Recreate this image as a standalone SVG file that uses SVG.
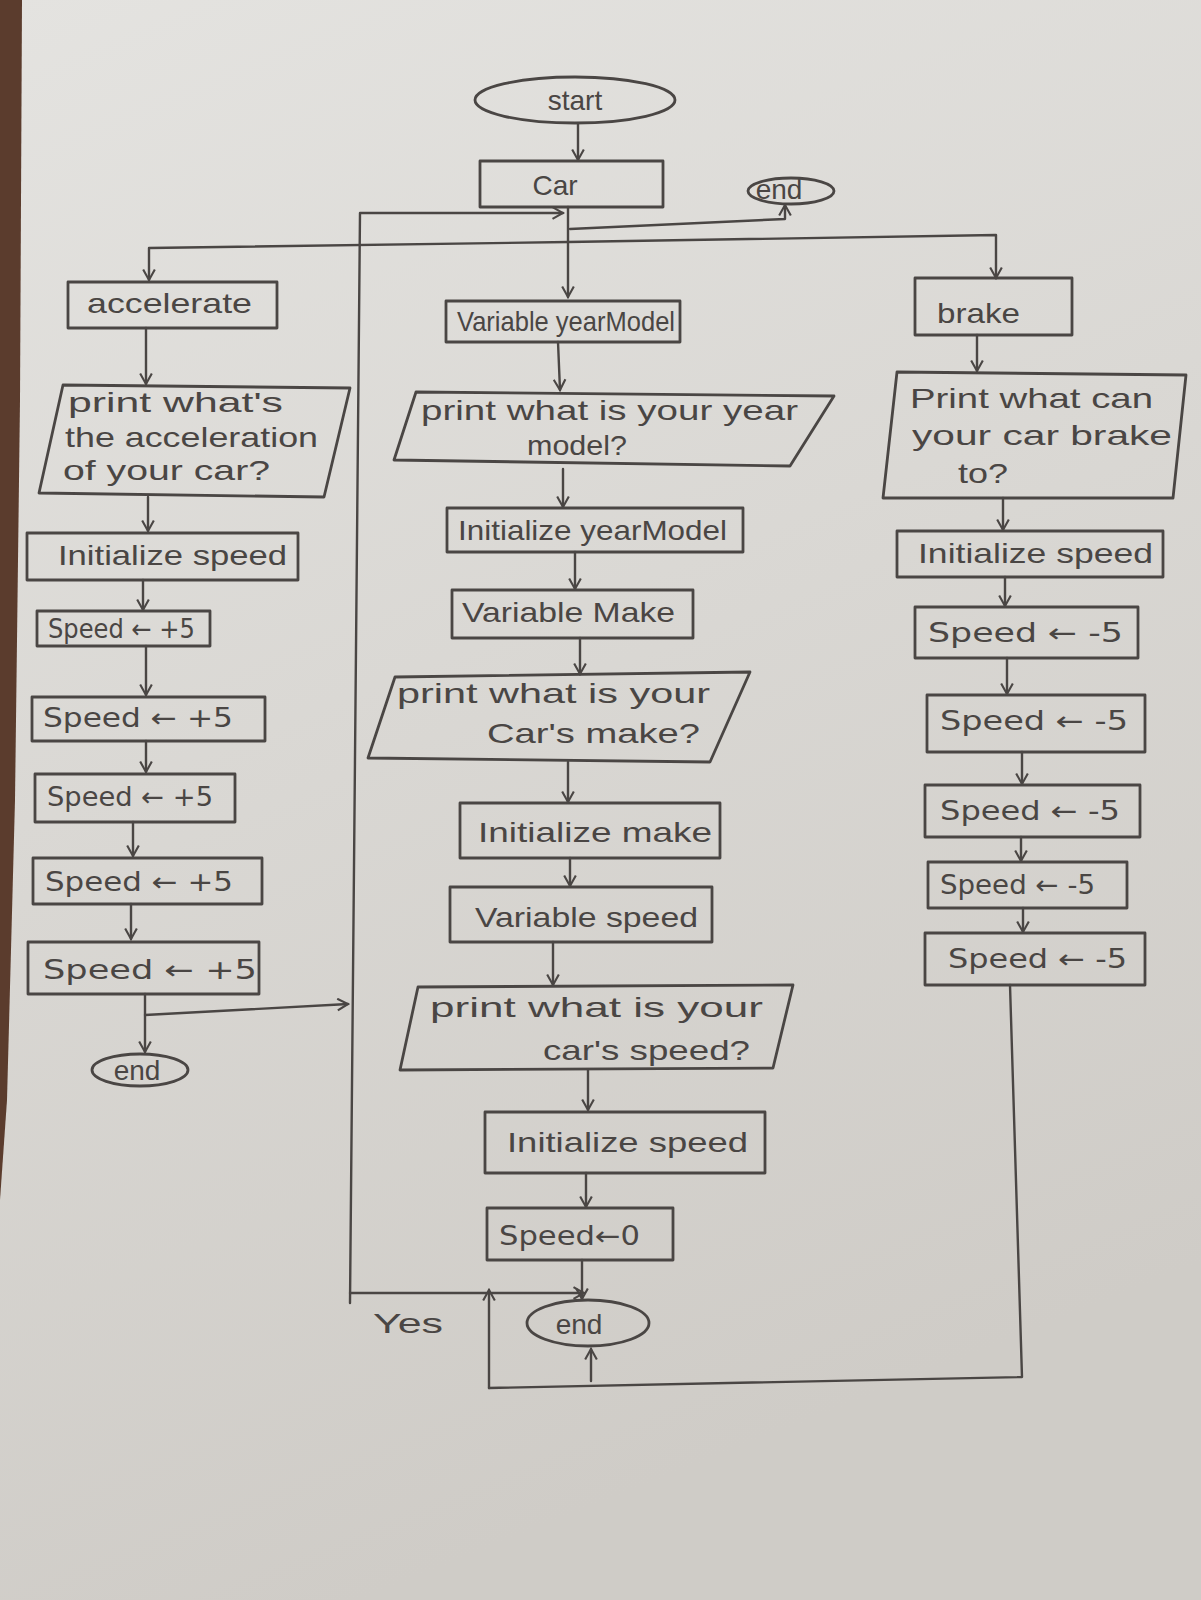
<svg xmlns="http://www.w3.org/2000/svg" width="1201" height="1600" viewBox="0 0 1201 1600">
<defs>
<linearGradient id="paper" x1="0" y1="0" x2="0.3" y2="1">
<stop offset="0" stop-color="#e4e3e0"/>
<stop offset="1" stop-color="#cfccc7"/>
</linearGradient>
<marker id="ah" viewBox="0 0 12 12" refX="10" refY="6" markerWidth="14" markerHeight="14" markerUnits="userSpaceOnUse" orient="auto">
<path d="M1,1 L10,6 L1,11" fill="none" stroke="#4a4644" stroke-width="1.8"/>
</marker>
<style>
.ln{fill:none;stroke:#4a4644;stroke-width:2.4;stroke-linejoin:round;stroke-linecap:round}
.bx{fill:none;stroke:#4a4644;stroke-width:2.8;stroke-linejoin:round}
.t{font-family:"Liberation Sans","DejaVu Sans",Arial,sans-serif;fill:#4a4644;font-size:28px}
.sp{font-family:"DejaVu Sans","Liberation Sans",sans-serif;fill:#4a4644;font-size:26px}
</style>
</defs>
<rect x="0" y="0" width="1201" height="1600" fill="url(#paper)"/>
<polygon points="0,0 22,0 20,400 15,800 7,1100 0,1200" fill="#5b3c2d"/>

<g id="connectors">
<path class="ln" marker-end="url(#ah)" d="M578,124 L578,160"/>
<path class="ln" marker-end="url(#ah)" d="M568,207 L568,297"/>
<path class="ln" marker-end="url(#ah)" d="M570,229 L785,219 L785,205"/>
<path class="ln" marker-end="url(#ah)" d="M568,242 L149,248 L149,280"/>
<path class="ln" marker-end="url(#ah)" d="M568,242 L996,235 L996,278"/>
<path class="ln" marker-end="url(#ah)" d="M350,1303 L360,213 L563,213"/>
<path class="ln" marker-end="url(#ah)" d="M350,1293 L584,1293"/>
<path class="ln" marker-end="url(#ah)" d="M146,328 L146,384"/>
<path class="ln" marker-end="url(#ah)" d="M148,497 L148,531"/>
<path class="ln" marker-end="url(#ah)" d="M143,580 L143,610"/>
<path class="ln" marker-end="url(#ah)" d="M146,646 L146,695"/>
<path class="ln" marker-end="url(#ah)" d="M146,741 L146,772"/>
<path class="ln" marker-end="url(#ah)" d="M133,822 L133,856"/>
<path class="ln" marker-end="url(#ah)" d="M131,904 L131,939"/>
<path class="ln" marker-end="url(#ah)" d="M145,994 L145,1052"/>
<path class="ln" marker-end="url(#ah)" d="M145,1015 L348,1004"/>
<path class="ln" marker-end="url(#ah)" d="M558,342 L560,390"/>
<path class="ln" marker-end="url(#ah)" d="M563,469 L563,507"/>
<path class="ln" marker-end="url(#ah)" d="M575,552 L575,589"/>
<path class="ln" marker-end="url(#ah)" d="M580,638 L580,674"/>
<path class="ln" marker-end="url(#ah)" d="M568,762 L568,802"/>
<path class="ln" marker-end="url(#ah)" d="M570,858 L570,886"/>
<path class="ln" marker-end="url(#ah)" d="M553,942 L553,985"/>
<path class="ln" marker-end="url(#ah)" d="M588,1070 L588,1110"/>
<path class="ln" marker-end="url(#ah)" d="M586,1173 L586,1207"/>
<path class="ln" marker-end="url(#ah)" d="M582,1260 L582,1299"/>
<path class="ln" marker-end="url(#ah)" d="M489,1388 L489,1290"/>
<path class="ln" d="M489,1388 L1022,1377 L1010,985"/>
<path class="ln" marker-end="url(#ah)" d="M591,1381 L591,1349"/>
<path class="ln" marker-end="url(#ah)" d="M977,335 L977,371"/>
<path class="ln" marker-end="url(#ah)" d="M1003,498 L1003,530"/>
<path class="ln" marker-end="url(#ah)" d="M1005,577 L1005,606"/>
<path class="ln" marker-end="url(#ah)" d="M1007,658 L1007,694"/>
<path class="ln" marker-end="url(#ah)" d="M1022,752 L1022,784"/>
<path class="ln" marker-end="url(#ah)" d="M1021,837 L1021,861"/>
<path class="ln" marker-end="url(#ah)" d="M1023,908 L1023,932"/>
</g>

<g id="start">
<ellipse class="bx" cx="575" cy="100" rx="100" ry="23"/>
<text class="t" x="575" y="110" font-size="32" text-anchor="middle">start</text>
</g>
<g id="car">
<rect class="bx" x="480" y="161" width="183" height="46"/>
<text class="t" x="555" y="195" font-size="32" text-anchor="middle">Car</text>
</g>
<g id="end-top">
<ellipse class="bx" cx="791" cy="191" rx="43" ry="13"/>
<text class="t" x="779" y="199" font-size="24" text-anchor="middle">end</text>
</g>

<g id="accelerate">
<rect class="bx" x="68" y="282" width="209" height="46"/>
<text class="t" x="87" y="313" textLength="165" lengthAdjust="spacingAndGlyphs">accelerate</text>
</g>
<g id="print-acceleration">
<polygon class="bx" points="63,385 350,388 324,497 39,493"/>
<text class="t" x="68" y="412" font-size="30" textLength="215" lengthAdjust="spacingAndGlyphs">print what's</text>
<text class="t" x="65" y="447" font-size="30" textLength="253" lengthAdjust="spacingAndGlyphs">the acceleration</text>
<text class="t" x="63" y="480" font-size="30" textLength="207" lengthAdjust="spacingAndGlyphs">of your car?</text>
</g>
<g id="init-speed-left">
<rect class="bx" x="27" y="533" width="271" height="47"/>
<text class="t" x="58" y="565" textLength="229" lengthAdjust="spacingAndGlyphs">Initialize speed</text>
</g>
<g id="acc1">
<rect class="bx" x="37" y="611" width="173" height="35"/>
<text class="sp" x="48" y="638" font-size="23" textLength="147" lengthAdjust="spacingAndGlyphs">Speed ← +5</text>
</g>
<g id="acc2">
<rect class="bx" x="32" y="697" width="233" height="44"/>
<text class="sp" x="43" y="727" textLength="190" lengthAdjust="spacingAndGlyphs">Speed ← +5</text>
</g>
<g id="acc3">
<rect class="bx" x="35" y="774" width="200" height="48"/>
<text class="sp" x="47" y="806" textLength="166" lengthAdjust="spacingAndGlyphs">Speed ← +5</text>
</g>
<g id="acc4">
<rect class="bx" x="33" y="858" width="229" height="46"/>
<text class="sp" x="45" y="891" textLength="188" lengthAdjust="spacingAndGlyphs">Speed ← +5</text>
</g>
<g id="acc5">
<rect class="bx" x="28" y="942" width="231" height="52"/>
<text class="sp" x="43" y="979" font-size="28" textLength="214" lengthAdjust="spacingAndGlyphs">Speed ← +5</text>
</g>
<g id="end-left">
<ellipse class="bx" cx="140" cy="1070" rx="48" ry="16"/>
<text class="t" x="137" y="1080" font-size="27" text-anchor="middle">end</text>
</g>

<g id="var-yearmodel">
<rect class="bx" x="446" y="301" width="234" height="41"/>
<text class="t" x="457" y="331" font-size="24" textLength="218" lengthAdjust="spacingAndGlyphs">Variable yearModel</text>
</g>
<g id="print-year">
<polygon class="bx" points="416,392 834,396 790,466 394,460"/>
<text class="t" x="421" y="420" textLength="377" lengthAdjust="spacingAndGlyphs">print what is your year</text>
<text class="t" x="527" y="455" textLength="100" lengthAdjust="spacingAndGlyphs">model?</text>
</g>
<g id="init-yearmodel">
<rect class="bx" x="447" y="508" width="296" height="44"/>
<text class="t" x="458" y="540" font-size="26" textLength="269" lengthAdjust="spacingAndGlyphs">Initialize yearModel</text>
</g>
<g id="var-make">
<rect class="bx" x="452" y="590" width="241" height="48"/>
<text class="t" x="462" y="622" textLength="213" lengthAdjust="spacingAndGlyphs">Variable Make</text>
</g>
<g id="print-make">
<polygon class="bx" points="395,677 750,672 710,762 368,758"/>
<text class="t" x="397" y="703" font-size="30" textLength="313" lengthAdjust="spacingAndGlyphs">print what is your</text>
<text class="t" x="487" y="743" font-size="30" textLength="213" lengthAdjust="spacingAndGlyphs">Car's make?</text>
</g>
<g id="init-make">
<rect class="bx" x="460" y="803" width="260" height="55"/>
<text class="t" x="478" y="842" textLength="234" lengthAdjust="spacingAndGlyphs">Initialize make</text>
</g>
<g id="var-speed">
<rect class="bx" x="450" y="887" width="262" height="55"/>
<text class="t" x="475" y="927" textLength="223" lengthAdjust="spacingAndGlyphs">Variable speed</text>
</g>
<g id="print-speed">
<polygon class="bx" points="418,987 793,985 773,1068 400,1070"/>
<text class="t" x="430" y="1017" font-size="30" textLength="333" lengthAdjust="spacingAndGlyphs">print what is your</text>
<text class="t" x="543" y="1060" font-size="30" textLength="207" lengthAdjust="spacingAndGlyphs">car's speed?</text>
</g>
<g id="init-speed-center">
<rect class="bx" x="485" y="1112" width="280" height="61"/>
<text class="t" x="507" y="1152" font-size="32" textLength="241" lengthAdjust="spacingAndGlyphs">Initialize speed</text>
</g>
<g id="speed-zero">
<rect class="bx" x="487" y="1208" width="186" height="52"/>
<text class="sp" x="499" y="1245" textLength="141" lengthAdjust="spacingAndGlyphs">Speed←0</text>
</g>
<g id="end-center">
<ellipse class="bx" cx="588" cy="1323" rx="61" ry="23"/>
<text class="t" x="579" y="1334" font-size="30" text-anchor="middle">end</text>
</g>
<g id="yes-label">
<text class="t" x="373" y="1333" font-size="32" textLength="70" lengthAdjust="spacingAndGlyphs">Yes</text>
</g>

<g id="brake">
<rect class="bx" x="915" y="278" width="157" height="57"/>
<text class="t" x="937" y="323" font-size="30" textLength="83" lengthAdjust="spacingAndGlyphs">brake</text>
</g>
<g id="print-brake">
<polygon class="bx" points="897,372 1186,375 1173,498 883,498"/>
<text class="t" x="910" y="408" font-size="30" textLength="243" lengthAdjust="spacingAndGlyphs">Print what can</text>
<text class="t" x="912" y="445" font-size="30" textLength="260" lengthAdjust="spacingAndGlyphs">your car brake</text>
<text class="t" x="958" y="483" font-size="30" textLength="50" lengthAdjust="spacingAndGlyphs">to?</text>
</g>
<g id="init-speed-right">
<rect class="bx" x="897" y="531" width="266" height="46"/>
<text class="t" x="918" y="563" textLength="235" lengthAdjust="spacingAndGlyphs">Initialize speed</text>
</g>
<g id="brk1">
<rect class="bx" x="915" y="607" width="223" height="51"/>
<text class="sp" x="928" y="642" textLength="195" lengthAdjust="spacingAndGlyphs">Speed ← -5</text>
</g>
<g id="brk2">
<rect class="bx" x="927" y="695" width="218" height="57"/>
<text class="sp" x="940" y="730" textLength="188" lengthAdjust="spacingAndGlyphs">Speed ← -5</text>
</g>
<g id="brk3">
<rect class="bx" x="925" y="785" width="215" height="52"/>
<text class="sp" x="940" y="820" textLength="180" lengthAdjust="spacingAndGlyphs">Speed ← -5</text>
</g>
<g id="brk4">
<rect class="bx" x="928" y="862" width="199" height="46"/>
<text class="sp" x="940" y="894" font-size="24" textLength="155" lengthAdjust="spacingAndGlyphs">Speed ← -5</text>
</g>
<g id="brk5">
<rect class="bx" x="925" y="933" width="220" height="52"/>
<text class="sp" x="948" y="968" textLength="179" lengthAdjust="spacingAndGlyphs">Speed ← -5</text>
</g>
</svg>
